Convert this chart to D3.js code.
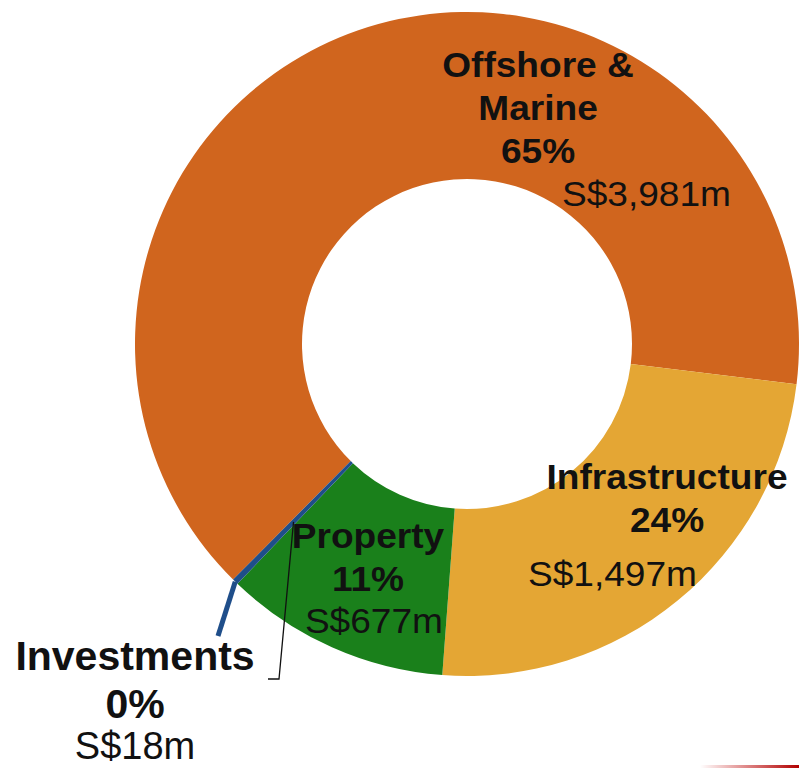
<!DOCTYPE html>
<html>
<head>
<meta charset="utf-8">
<script src="https://cdn.jsdelivr.net/npm/d3@7"></script>
<style>
  html, body { margin: 0; padding: 0; background: #fff; }
  svg { display: block; }
  text { font-family: "Liberation Sans", Arial, sans-serif; fill: #111; }
</style>
</head>
<body>
<svg id="chart" width="799" height="769"></svg>
<script>
// segment data
const segments = ['Offshore & Marine', 'Infrastructure', 'Property', 'Investments'];
const values = [3981, 1497, 677, 18];
const percents = ['65%', '24%', '11%', '0%'];
const amounts = ['S$3,981m', 'S$1,497m', 'S$677m', 'S$18m'];
const colors = ['#d0651e', '#e4a634', '#1a801b', '#1f4e8a'];

const width = 799, height = 769;
const cx = 467, cy = 344;
const outerR = 332, innerR = 165;

const svg = d3.select('#chart');
const g = svg.append('g').attr('transform', 'translate(' + cx + ',' + cy + ')');

const pie = d3.pie()
  .sort(null)
  .startAngle(-135.2 * Math.PI / 180)
  .endAngle((360 - 135.2) * Math.PI / 180);

const arcs = pie(values);
const arc = d3.arc().innerRadius(innerR).outerRadius(outerR);

g.selectAll('path.slice')
  .data(arcs)
  .enter()
  .append('path')
  .attr('class', 'slice')
  .attr('d', arc)
  .attr('fill', (d, i) => colors[i]);

// investments: blue tick outward + black leader to label
const inv = arcs[3];
const invMid = (inv.startAngle + inv.endAngle) / 2;
const outerPt = [outerR * Math.sin(invMid), -outerR * Math.cos(invMid)];
g.append('line')
  .attr('x1', outerPt[0]).attr('y1', outerPt[1])
  .attr('x2', 218 - cx).attr('y2', 636 - cy)
  .attr('stroke', colors[3])
  .attr('stroke-width', 5);

const c = arc.centroid(inv);
g.append('path')
  .attr('d', d3.line()([c, [279 - cx, 679 - cy], [268 - cx, 679 - cy]]))
  .attr('fill', 'none')
  .attr('stroke', '#111')
  .attr('stroke-width', 1.3);

// label placement (name lines centred on x, value text anchored separately)
const labelLayout = [
  { names: ['Offshore &', 'Marine'], x: 538, y: 77, gap: 43, vx: 731, vy: 206, va: 'end', fs: 35, sx: 1.06 },
  { names: ['Infrastructure'], x: 667, y: 489, gap: 43, vx: 697, vy: 586, va: 'end', fs: 35, sx: 1.06 },
  { names: ['Property'], x: 368, y: 548, gap: 43, vx: 443, vy: 633, va: 'end', fs: 35, sx: 1.06 },
  { names: ['Investments'], x: 135, y: 670, gap: 48, vx: 135, vy: 759, va: 'middle', fs: 41, sx: 1.0 }
];

const labels = svg.append('g').attr('class', 'labels');
const put = (t, x, y, anchor, l, bold) => {
  labels.append('text')
    .attr('transform', 'translate(' + x + ',' + y + ') scale(' + l.sx + ',1)')
    .attr('text-anchor', anchor)
    .attr('font-weight', bold ? 'bold' : 'normal')
    .attr('font-size', bold ? l.fs : l.fs - (l.sx === 1 ? 3 : 0))
    .text(t);
};
labelLayout.forEach((l, i) => {
  l.names.concat([percents[i]]).forEach((t, j) => {
    put(t, l.x, l.y + j * l.gap, 'middle', l, true);
  });
  put(amounts[i], l.vx, l.vy, l.va, l, false);
});

// thin red rule at bottom right
const grad = svg.append('defs').append('linearGradient')
  .attr('id', 'redfade').attr('x1', '0%').attr('x2', '100%');
grad.append('stop').attr('offset', '0%').attr('stop-color', '#c00000').attr('stop-opacity', 0);
grad.append('stop').attr('offset', '100%').attr('stop-color', '#b00000').attr('stop-opacity', 1);
svg.append('rect')
  .attr('x', 700).attr('y', 765).attr('width', 99).attr('height', 3)
  .attr('fill', 'url(#redfade)');
</script>
</body>
</html>
